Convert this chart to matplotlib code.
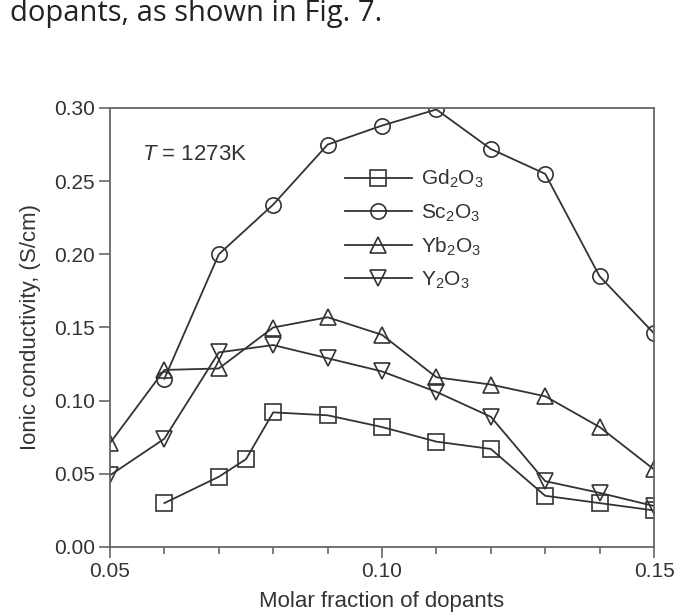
import matplotlib.pyplot as plt
from matplotlib.ticker import MultipleLocator

# molar fraction of dopant (x) and ionic conductivity in S/cm (y)
gd_x = [0.06, 0.07, 0.075, 0.08, 0.09, 0.10, 0.11, 0.12, 0.13, 0.14, 0.15]
gd_y = [0.030, 0.048, 0.060, 0.092, 0.090, 0.082, 0.072, 0.067, 0.035, 0.030, 0.025]

sc_x = [0.06, 0.07, 0.08, 0.09, 0.10, 0.11, 0.12, 0.13, 0.14, 0.15]
sc_y = [0.115, 0.200, 0.234, 0.275, 0.288, 0.299, 0.272, 0.255, 0.185, 0.146]

yb_x = [0.05, 0.06, 0.07, 0.08, 0.09, 0.10, 0.11, 0.12, 0.13, 0.14, 0.15]
yb_y = [0.071, 0.121, 0.122, 0.150, 0.157, 0.145, 0.116, 0.111, 0.103, 0.082, 0.053]

y_x = [0.05, 0.06, 0.07, 0.08, 0.09, 0.10, 0.11, 0.12, 0.13, 0.14, 0.15]
y_y = [0.049, 0.074, 0.133, 0.138, 0.129, 0.120, 0.106, 0.089, 0.045, 0.037, 0.028]

series = [
    (gd_x, gd_y, "s", r"Gd$_2$O$_3$"),
    (sc_x, sc_y, "o", r"Sc$_2$O$_3$"),
    (yb_x, yb_y, "^", r"Yb$_2$O$_3$"),
    (y_x, y_y, "v", r"Y$_2$O$_3$"),
]

plt.rcParams["font.family"] = ["Liberation Sans", "DejaVu Sans"]
plt.rcParams["mathtext.fontset"] = "custom"
plt.rcParams["mathtext.rm"] = "Liberation Sans"
plt.rcParams["mathtext.it"] = "Liberation Sans:italic"

ink = "#333333"
spine = "#666666"

fig = plt.figure(figsize=(6.79, 6.14), dpi=100)
ax = fig.add_axes([110 / 679, 1 - 547 / 614, 544 / 679, 439 / 614])

for xs, ys, m, lab in series:
    ax.plot(xs, ys, color=ink, lw=1.3, marker=m, markersize=11,
            markerfacecolor="none", markeredgecolor=ink, markeredgewidth=1.2,
            label=lab)

ax.set_xlim(0.05, 0.15)
ax.set_ylim(0.0, 0.30)
ax.xaxis.set_major_locator(MultipleLocator(0.05))
ax.xaxis.set_minor_locator(MultipleLocator(0.01))
ax.yaxis.set_major_locator(MultipleLocator(0.05))
ax.xaxis.set_major_formatter(plt.FormatStrFormatter("%.2f"))
ax.yaxis.set_major_formatter(plt.FormatStrFormatter("%.2f"))
ax.tick_params(which="both", direction="out", color=spine, width=1.2,
               labelsize=15, labelcolor=ink, top=False, right=False)
ax.tick_params(which="major", length=8, pad=3)
ax.tick_params(which="minor", length=5)
for s in ax.spines.values():
    s.set_color(spine)
    s.set_linewidth(1.3)

ax.set_xlabel("Molar fraction of dopants", fontsize=16, color=ink, labelpad=7)
ax.set_ylabel("Ionic conductivity, (S/cm)", fontsize=16, color=ink, labelpad=9)

ax.text(0.0559, 0.268, r"$T$ = 1273K", fontsize=16, color=ink, va="center")

ax.legend(loc="upper left", bbox_to_anchor=(0.432, 0.863), frameon=False,
          fontsize=15, handlelength=3.2, handletextpad=0.45, labelspacing=0.57,
          borderpad=0, borderaxespad=0, labelcolor=ink)

fig.text(10 / 679, 1 - 21 / 614, "dopants, as shown in Fig. 7.",
         fontsize=21, family="Open Sans", color="#222222", va="baseline")

fig.savefig("out.png", dpi=100)
